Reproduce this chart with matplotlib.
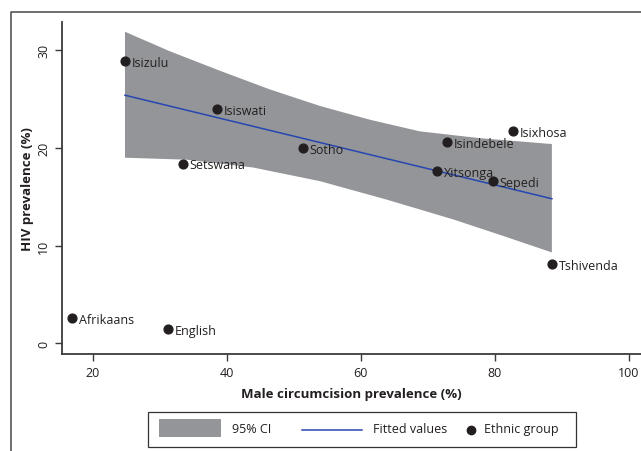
import numpy as np
import matplotlib.pyplot as plt
from matplotlib.patches import Rectangle
from matplotlib.lines import Line2D

plt.rcParams['font.family'] = ['Open Sans', 'DejaVu Sans']

# Ethnic groups: male circumcision prevalence (%) vs HIV prevalence (%)
groups = ['Isizulu', 'Isiswati', 'Setswana', 'Sotho', 'Isindebele', 'Isixhosa',
          'Xitsonga', 'Sepedi', 'Tshivenda', 'Afrikaans', 'English']
circ = [24.8, 38.5, 33.4, 51.3, 72.8, 82.7, 71.3, 79.7, 88.5, 16.9, 31.2]
hiv = [28.9, 24.0, 18.4, 20.0, 20.6, 21.7, 17.6, 16.6, 8.1, 2.6, 1.5]

# fitted line and 95% CI band
fit_x = [24.8, 88.5]
fit_y = [25.4, 14.8]
ci_hi_x = [24.8, 31.5, 39.0, 46.4, 53.9, 61.3, 68.8, 77.8, 88.5]
ci_hi = [31.9, 29.9, 27.9, 26.0, 24.3, 22.9, 21.7, 21.0, 20.4]
ci_lo_x = [24.8, 34.0, 43.9, 53.9, 63.9, 73.7, 81.2, 88.5]
ci_lo = [19.0, 18.8, 18.0, 16.6, 14.7, 12.7, 11.0, 9.3]

gray = '#939598'
blue = '#2646b0'
dark = '#231f20'

fig = plt.figure(figsize=(6.41, 4.52), dpi=100)
ax = fig.add_axes([62 / 641, 1 - 355 / 452, 1 - 62 / 641, (355 - 23) / 452])

ax.fill(ci_hi_x + ci_lo_x[::-1], ci_hi + ci_lo[::-1], color=gray, lw=0)
ax.plot(fit_x, fit_y, color=blue, lw=1.1)
ax.scatter(circ, hiv, s=40, color=dark, zorder=3)
for g, x, y in zip(groups, circ, hiv):
    ax.annotate(g, (x, y), xytext=(5, -1), textcoords='offset points',
                va='center', ha='left', fontsize=9, color=dark)

ax.set_xlim(15.4, 101.8)
ax.set_ylim(-1.1, 32.9)
ax.set_xticks([20, 40, 60, 80, 100])
ax.set_yticks([0, 10, 20, 30])
for s in ['top', 'right']:
    ax.spines[s].set_visible(False)
for s in ['left', 'bottom']:
    ax.spines[s].set_color('#3a3a3a')
    ax.spines[s].set_linewidth(1.3)
ax.tick_params(direction='out', length=5, width=1, colors='#3a3a3a',
               labelsize=9, labelcolor=dark)
plt.setp(ax.get_yticklabels(), rotation=90, va='center')
ax.set_xlabel('Male circumcision prevalence (%)', fontsize=9.5,
              fontweight='bold', color=dark, labelpad=6)
ax.set_ylabel('HIV prevalence (%)', fontsize=9.5, fontweight='bold',
              color=dark, labelpad=2)

# outer frame (left and top edges visible)
fig.add_artist(Line2D([11 / 641, 11 / 641, 1], [0, 1 - 13 / 452, 1 - 13 / 452],
                      transform=fig.transFigure, color='#555555', lw=1.2))

# legend box drawn by hand
W, H = 641, 452
def fx(px):
    return px / W
def fy(py):
    return 1 - py / H

fig.add_artist(Rectangle((fx(148), fy(448)), fx(576) - fx(148), fy(413) - fy(448),
                         transform=fig.transFigure, fill=False, ec='#333333', lw=0.9))
fig.add_artist(Rectangle((fx(159), fy(438)), fx(221) - fx(159), fy(420) - fy(438),
                         transform=fig.transFigure, fc=gray, ec='none'))
fig.text(fx(232), fy(430), '95% CI', fontsize=9, va='center', color=dark)
fig.add_artist(Line2D([fx(302), fx(362)], [fy(431), fy(431)],
                      transform=fig.transFigure, color=blue, lw=1.1))
fig.text(fx(373), fy(430), 'Fitted values', fontsize=9, va='center', color=dark)
fig.add_artist(Line2D([fx(471)], [fy(431)], transform=fig.transFigure,
                      marker='o', ms=6, color=dark, ls='none'))
fig.text(fx(484), fy(430), 'Ethnic group', fontsize=9, va='center', color=dark)

fig.savefig('out.png', dpi=100)
